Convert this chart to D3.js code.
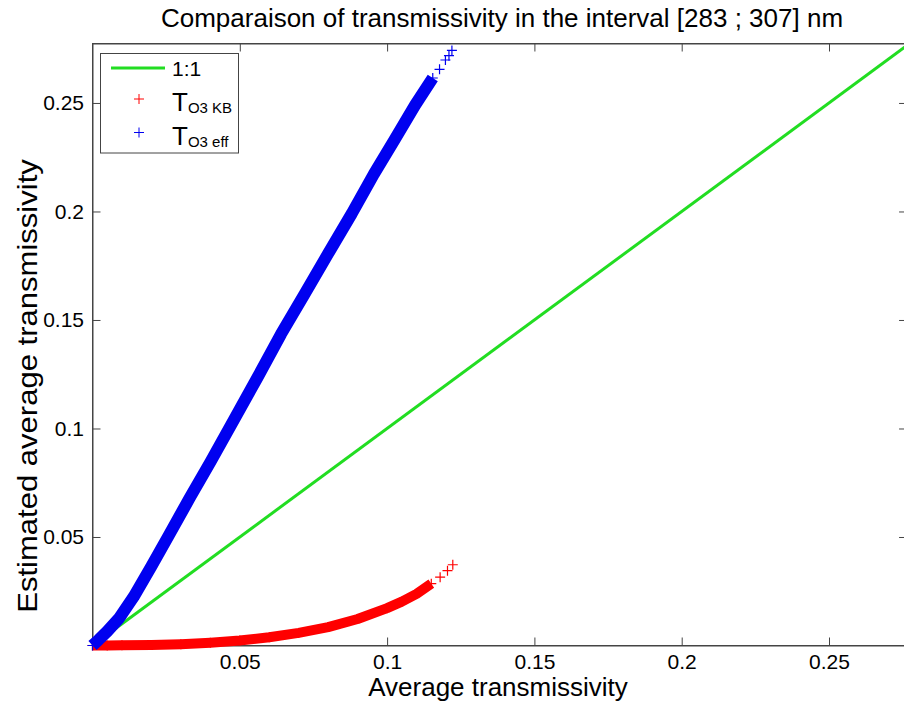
<!DOCTYPE html>
<html>
<head>
<meta charset="utf-8">
<script src="https://cdn.jsdelivr.net/npm/d3@7"></script>
<style>
  html, body { margin: 0; padding: 0; background: #fff; }
  svg { display: block; }
  text { font-family: "Liberation Sans", Arial, Helvetica, sans-serif; fill: #000; }
</style>
</head>
<body>
<svg id="chart" width="904" height="706"></svg>
<script>
// ---- data ----
const titleText = "Comparaison of transmissivity in the interval [283 ; 307] nm";
const xLabelText = "Average transmissivity";
const yLabelText = "Estimated average transmissivity";

const xTicks = [0.05, 0.1, 0.15, 0.2, 0.25];
const yTicks = [0.05, 0.1, 0.15, 0.2, 0.25];
const axisMax = [0.2765, 0.2774];

const oneToOne = [0, 0.28];

const effX = [0, 0.002, 0.005, 0.009, 0.014, 0.02, 0.026, 0.033, 0.04, 0.048, 0.056, 0.064, 0.072, 0.080, 0.088, 0.0955, 0.1025, 0.1095, 0.1155, 0.1178, 0.1198, 0.1210, 0.122];
const effY = [0, 0.0025, 0.0065, 0.0125, 0.0225, 0.0365, 0.051, 0.068, 0.0845, 0.104, 0.1235, 0.1435, 0.162, 0.1806, 0.199, 0.2172, 0.233, 0.249, 0.2615, 0.2655, 0.2698, 0.2718, 0.2742];

const kbX = [0, 0.005, 0.01, 0.02, 0.03, 0.04, 0.05, 0.06, 0.07, 0.08, 0.09, 0.1, 0.105, 0.11, 0.115, 0.118, 0.1205, 0.1223];
const kbY = [0, 0, 0.0001, 0.0002, 0.0006, 0.0013, 0.0023, 0.0038, 0.0058, 0.0085, 0.0122, 0.0172, 0.0202, 0.0238, 0.0285, 0.0315, 0.0345, 0.0372];

// ---- layout ----
const svg = d3.select("#chart");
const L = 92.5, T = 43.5, B = 645.5;
const R = L + axisMax[0] * 2946;

const x = d3.scaleLinear().domain([0, axisMax[0]]).range([L, R]);
const y = d3.scaleLinear().domain([0, axisMax[1]]).range([B, T]);

const axisColor = "#444";

// title
svg.append("text").attr("x", 502).attr("y", 27).attr("text-anchor", "middle")
  .style("font-size", "26px").text(titleText);

// frame
svg.append("rect").attr("x", L).attr("y", T).attr("width", R - L).attr("height", B - T)
  .attr("fill", "#fff").attr("stroke", axisColor).attr("stroke-width", 1);

function styleAxis(g) {
  g.select(".domain").attr("stroke", axisColor);
  g.selectAll(".tick line").attr("stroke", axisColor);
  g.selectAll(".tick text").style("font-size", "21px").attr("fill", "#000")
    .style("font-family", '"Liberation Sans", Arial, sans-serif');
}

svg.append("g").attr("transform", `translate(0,${B})`)
  .call(d3.axisBottom(x).tickValues(xTicks).tickSize(-8).tickSizeOuter(0).tickPadding(9).tickFormat(d3.format("")))
  .call(styleAxis);
svg.append("g").attr("transform", `translate(0,${T})`)
  .call(d3.axisTop(x).tickValues(xTicks).tickSize(-8).tickSizeOuter(0).tickFormat(""))
  .call(styleAxis);
svg.append("g").attr("transform", `translate(${L},0)`)
  .call(d3.axisLeft(y).tickValues(yTicks).tickSize(-8).tickSizeOuter(0).tickPadding(8.5).tickFormat(d3.format("")))
  .call(styleAxis);
svg.append("g").attr("transform", `translate(${R},0)`)
  .call(d3.axisRight(y).tickValues(yTicks).tickSize(-8).tickSizeOuter(0).tickFormat(""))
  .call(styleAxis);

// axis labels
svg.append("text").attr("x", 498).attr("y", 696).attr("text-anchor", "middle")
  .style("font-size", "26px").text(xLabelText);
svg.append("text").attr("transform", "translate(37,386) rotate(-90) scale(1.15,1)").attr("text-anchor", "middle")
  .style("font-size", "27px").text(yLabelText);

// series
const colors = { line: "#22dd22", kb: "#ff0000", eff: "#0000f0" };
const lineGen = d3.line().x(d => x(d[0])).y(d => y(d[1]));

// 1:1 line
svg.append("path").datum([[oneToOne[0], oneToOne[0]], [oneToOne[1], oneToOne[1]]])
  .attr("d", lineGen).attr("fill", "none").attr("stroke", colors.line).attr("stroke-width", 3);

function plusPath(px, py, s) {
  return `M${px - s},${py}H${px + s}M${px},${py - s}V${py + s}`;
}

function drawSeries(xs, ys, color, bandEnd, bandW) {
  const pts = xs.map((v, i) => [v, ys[i]]);
  svg.append("path").datum(pts.slice(0, bandEnd))
    .attr("d", lineGen).attr("fill", "none").attr("stroke", color)
    .attr("stroke-width", bandW).attr("stroke-linejoin", "round").attr("stroke-linecap", "butt");
  svg.append("g").selectAll("path").data(pts).join("path")
    .attr("d", d => plusPath(x(d[0]), y(d[1]), 5))
    .attr("stroke", color).attr("stroke-width", 1.2).attr("fill", "none");
}

drawSeries(kbX, kbY, colors.kb, kbX.length - 3, 10);
drawSeries(effX, effY, colors.eff, effX.length - 4, 12);

// legend
const lg = svg.append("g");
lg.append("rect").attr("x", 100.5).attr("y", 53.5).attr("width", 138).attr("height", 99.5)
  .attr("fill", "#fff").attr("stroke", axisColor).attr("stroke-width", 1);
lg.append("line").attr("x1", 111).attr("x2", 165).attr("y1", 68).attr("y2", 68)
  .attr("stroke", colors.line).attr("stroke-width", 3);
lg.append("text").attr("x", 172).attr("y", 76).style("font-size", "21px").text("1:1");

const entries = [
  { color: colors.kb, sub: "O3 KB", y: 99, base: 111 },
  { color: colors.eff, sub: "O3 eff", y: 132.5, base: 144.5 }
];
entries.forEach(e => {
  lg.append("path").attr("d", plusPath(139, e.y, 5)).attr("stroke", e.color)
    .attr("stroke-width", 1).attr("fill", "none");
  const t = lg.append("text").attr("x", 172).attr("y", e.base).style("font-size", "26px");
  t.append("tspan").text("T");
  t.append("tspan").attr("dy", 2).style("font-size", "15px").text(e.sub);
});
</script>
</body>
</html>
